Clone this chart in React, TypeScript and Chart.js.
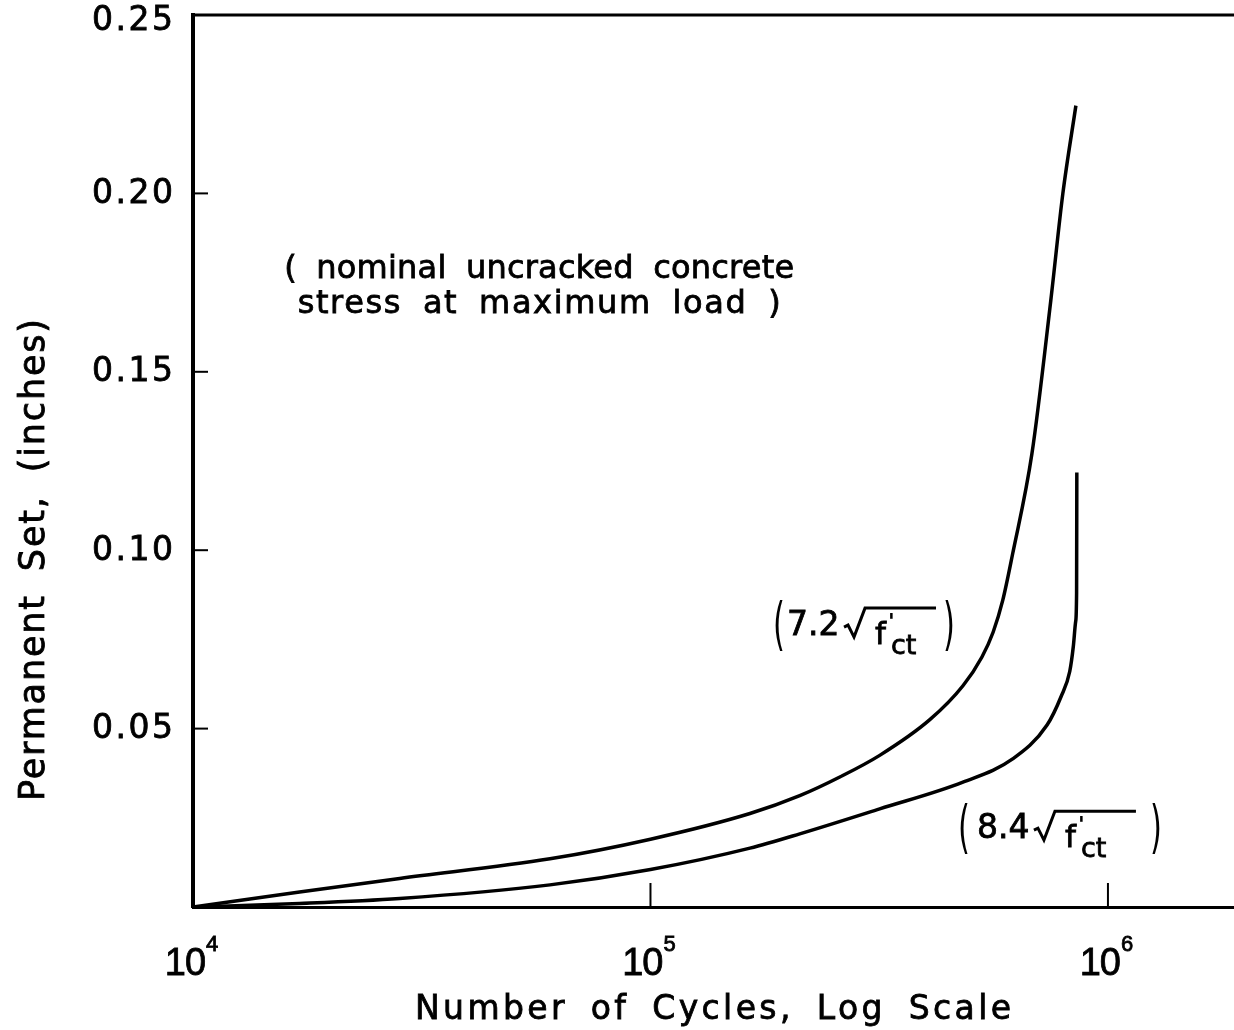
import React, { useEffect, useRef } from 'react';
import { Chart, registerables } from 'chart.js';

Chart.register(...registerables);

// ---- data ----
const cyclesUpper = [1e4, 1.71e4, 2.83e4, 6.03e4, 1e5, 1.65e5, 2.12e5, 2.6e5, 3.17e5, 4.08e5, 4.82e5, 5.3e5, 5.61e5, 5.89e5, 6.19e5, 6.82e5, 7.5e5, 7.97e5, 8.51e5];
const setUpper = [0, 0.0042, 0.008, 0.0135, 0.019, 0.0262, 0.0312, 0.0365, 0.0425, 0.0525, 0.062, 0.07, 0.077, 0.086, 0.099, 0.127, 0.17, 0.2, 0.2246];
const cyclesLower = [1e4, 1.71e4, 2.83e4, 6.03e4, 1e5, 1.65e5, 2.12e5, 3.17e5, 4.82e5, 6.19e5, 7.36e5, 7.9e5, 8.25e5, 8.4e5, 8.5e5, 8.54e5, 8.55e5];
const setLower = [0, 0.001, 0.0024, 0.0062, 0.0105, 0.0165, 0.0205, 0.0275, 0.035, 0.0415, 0.051, 0.059, 0.066, 0.073, 0.08, 0.088, 0.1218];

const yTickValues = [0.05, 0.1, 0.15, 0.2, 0.25];
const yTickLabels = ['0.05', '0.10', '0.15', '0.20', '0.25'];
const xTickValues = [1e4, 1e5, 1e6];
const xTickExponents = ['4', '5', '6'];
const xMarkValues = [1e5, 1e6];

const xTitle = 'Number of Cycles, Log Scale';
const yTitle = 'Permanent Set, (inches)';
const noteLines = ['( nominal uncracked concrete', 'stress at maximum load )'];
const seriesLabels = ['7.2', '8.4'];

const FONT = '"DejaVu Sans", sans-serif';

function fillBold(ctx: CanvasRenderingContext2D, text: string, x: number, y: number) {
  ctx.fillText(text, x, y);
  ctx.save();
  ctx.lineWidth = 0.8;
  ctx.strokeStyle = '#000';
  ctx.strokeText(text, x, y);
  ctx.restore();
}

function drawFit(ctx: CanvasRenderingContext2D, text: string, x: number, y: number, width: number, align: 'left' | 'center' | 'right', wordSpacing = 0) {
  (ctx as any).letterSpacing = '0px';
  (ctx as any).wordSpacing = wordSpacing + 'px';
  ctx.textAlign = 'left';
  const w0 = ctx.measureText(text).width;
  const n = Math.max(1, text.length - 1);
  const ls = (width - w0) / n;
  (ctx as any).letterSpacing = ls + 'px';
  let sx = x;
  if (align === 'center') sx = x - width / 2;
  if (align === 'right') sx = x - width;
  fillBold(ctx, text, sx, y);
  (ctx as any).letterSpacing = '0px';
  (ctx as any).wordSpacing = '0px';
}

function drawParen(ctx: CanvasRenderingContext2D, ch: string, x: number, cy: number) {
  ctx.save();
  ctx.translate(x, cy);
  ctx.scale(0.85, 1.6);
  ctx.font = `36px ${FONT}`;
  ctx.textAlign = 'left';
  ctx.textBaseline = 'middle';
  ctx.fillText(ch, 0, 0);
  ctx.restore();
}

function drawRootLabel(ctx: CanvasRenderingContext2D, x0: number, b: number, coef: string, coefDx: number, lineEnd: number, closeX: number) {
  ctx.save();
  ctx.fillStyle = '#000';
  ctx.strokeStyle = '#000';
  drawParen(ctx, '(', x0, b - 7);
  ctx.textBaseline = 'alphabetic';
  ctx.textAlign = 'left';
  ctx.font = `33px ${FONT}`;
  fillBold(ctx, coef, x0 + coefDx, b);
  ctx.lineWidth = 3;
  ctx.lineJoin = 'miter';
  ctx.beginPath();
  ctx.moveTo(coefDx + x0 + 57, b - 8);
  ctx.lineTo(coefDx + x0 + 61, b - 10);
  ctx.lineTo(coefDx + x0 + 67, b + 2);
  ctx.lineTo(coefDx + x0 + 78, b - 27);
  ctx.lineTo(x0 + lineEnd, b - 27);
  ctx.stroke();
  ctx.font = `31px ${FONT}`;
  fillBold(ctx, 'f', coefDx + x0 + 88, b + 9);
  ctx.font = `bold 22px ${FONT}`;
  ctx.fillText("'", coefDx + x0 + 101, b - 6);
  ctx.font = `27px ${FONT}`;
  fillBold(ctx, 'ct', coefDx + x0 + 104, b + 19);
  drawParen(ctx, ')', x0 + closeX, b - 7);
  ctx.restore();
}

const framePlugin = {
  id: 'frameAndText',
  afterDraw(chart: any) {
    const { ctx, chartArea } = chart;
    const { left, right, top, bottom } = chartArea;
    const xs = chart.scales.x;
    const ys = chart.scales.y;
    ctx.save();
    ctx.strokeStyle = '#000';
    ctx.fillStyle = '#000';
    // top frame line
    ctx.lineWidth = 3;
    ctx.beginPath();
    ctx.moveTo(left - 2, top);
    ctx.lineTo(right, top);
    ctx.stroke();
    // inward y ticks
    ctx.lineWidth = 2;
    yTickValues.forEach((v) => {
      if (v >= 0.25) return;
      const py = ys.getPixelForValue(v);
      ctx.beginPath();
      ctx.moveTo(left, py);
      ctx.lineTo(left + 15, py);
      ctx.stroke();
    });
    // inward x ticks
    xMarkValues.forEach((v) => {
      const px = xs.getPixelForValue(v);
      ctx.beginPath();
      ctx.moveTo(px, bottom);
      ctx.lineTo(px, bottom - 24);
      ctx.stroke();
    });
    // y tick labels
    ctx.font = `33px ${FONT}`;
    ctx.textBaseline = 'middle';
    yTickValues.forEach((v, i) => {
      const py = ys.getPixelForValue(v) + (v >= 0.25 ? 6 : 1);
      drawFit(ctx, yTickLabels[i], left - 20, py, 81, 'right');
    });
    // x tick labels (10^n)
    ctx.textBaseline = 'alphabetic';
    const tickFont = '"Liberation Sans", sans-serif';
    xTickValues.forEach((v, i) => {
      const px = xs.getPixelForValue(v);
      ctx.font = `38px ${tickFont}`;
      (ctx as any).letterSpacing = '-1px';
      const w10 = ctx.measureText('10').width;
      ctx.font = `22px ${tickFont}`;
      (ctx as any).letterSpacing = '0px';
      const we = ctx.measureText(xTickExponents[i]).width;
      const start = px - (w10 + we) / 2 - 2;
      ctx.font = `38px ${tickFont}`;
      (ctx as any).letterSpacing = '-1px';
      ctx.textAlign = 'left';
      fillBold(ctx, '10', start, bottom + 68);
      (ctx as any).letterSpacing = '0px';
      ctx.font = `22px ${tickFont}`;
      fillBold(ctx, xTickExponents[i], start + w10 + 1, bottom + 44);
    });
    // x title
    ctx.font = `33px ${FONT}`;
    drawFit(ctx, xTitle, 415, bottom + 112, 596, 'left', 9);
    // y title
    ctx.save();
    ctx.translate(44, 560);
    ctx.rotate(-Math.PI / 2);
    ctx.font = `35px ${FONT}`;
    drawFit(ctx, yTitle, 0, 0, 482, 'center', 10);
    ctx.restore();
    // note text
    ctx.font = `32px ${FONT}`;
    const nx = xs.getPixelForValue(5.71e4);
    drawFit(ctx, noteLines[0], nx, ys.getPixelForValue(0.1764), 510, 'center', 9);
    drawFit(ctx, noteLines[1], nx, ys.getPixelForValue(0.1664), 483, 'center', 9);
    // series labels
    drawRootLabel(ctx, xs.getPixelForValue(1.853e5), ys.getPixelForValue(0.0762), seriesLabels[0], 14, 163, 170);
    drawRootLabel(ctx, xs.getPixelForValue(4.7e5), ys.getPixelForValue(0.0193), seriesLabels[1], 19, 178, 192);
    ctx.restore();
  },
};

export default function App() {
  const ref = useRef<HTMLCanvasElement | null>(null);
  useEffect(() => {
    const canvas = ref.current;
    if (!canvas) return;
    const toPts = (xs: number[], ys: number[]) => xs.map((x, i) => ({ x, y: ys[i] }));
    const chart = new Chart(canvas, {
      type: 'line',
      data: {
        datasets: [
          {
            label: '7.2',
            data: toPts(cyclesUpper, setUpper),
            borderColor: '#000',
            borderWidth: 3.5,
            pointRadius: 0,
            fill: false,
            cubicInterpolationMode: 'monotone',
          },
          {
            label: '8.4',
            data: toPts(cyclesLower, setLower),
            borderColor: '#000',
            borderWidth: 3.5,
            pointRadius: 0,
            fill: false,
            cubicInterpolationMode: 'monotone',
          },
        ],
      },
      options: {
        animation: false,
        responsive: false,
        devicePixelRatio: 1,
        layout: { padding: { left: 193, right: 0, top: 15, bottom: 123 } },
        plugins: { legend: { display: false }, tooltip: { enabled: false } },
        scales: {
          x: {
            type: 'logarithmic',
            min: 1e4,
            max: 1.886e6,
            grid: { display: false },
            ticks: { display: false },
            border: { display: true, color: '#000', width: 3 },
            afterFit: (s: any) => { s.height = 0; },
          },
          y: {
            type: 'linear',
            min: 0,
            max: 0.25,
            grid: { display: false },
            ticks: { display: false },
            border: { display: true, color: '#000', width: 4 },
            afterFit: (s: any) => { s.width = 0; },
          },
        },
      } as any,
      plugins: [framePlugin],
    });
    return () => chart.destroy();
  }, []);
  return (
    <div style={{ position: 'absolute', left: 0, top: 0, width: 1234, height: 1030, background: '#fff' }}>
      <canvas ref={ref} width={1234} height={1030} />
    </div>
  );
}
